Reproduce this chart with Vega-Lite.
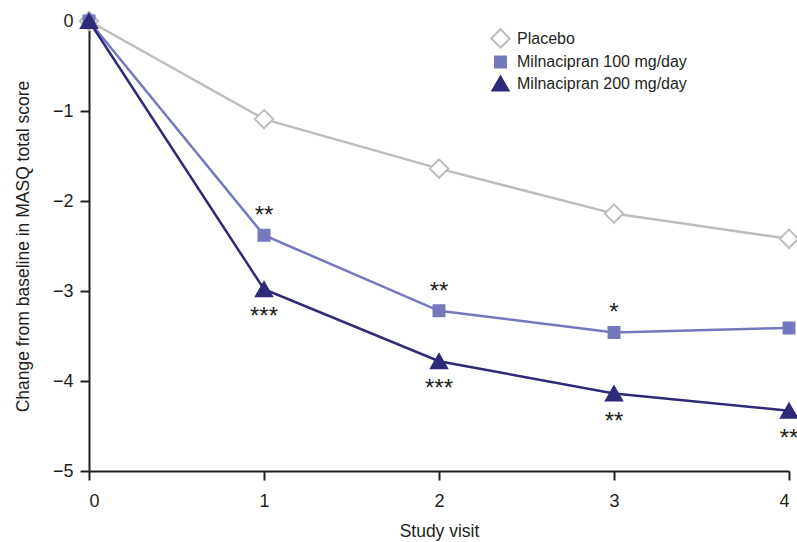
{
  "$schema": "https://vega.github.io/schema/vega-lite/v6.json",
  "width": 700,
  "height": 450,
  "autosize": {"type": "none"},
  "padding": {"left": 89, "top": 21, "right": 8, "bottom": 71},
  "background": "white",
  "config": {
    "view": {"stroke": null},
    "font": "Liberation Sans",
    "axis": {
      "domainColor": "#231f20",
      "domainWidth": 2,
      "tickColor": "#231f20",
      "tickWidth": 2,
      "tickSize": 9,
      "grid": false,
      "labelFontSize": 18,
      "labelColor": "#231f20",
      "titleFontSize": 17.5,
      "titleFontWeight": "normal",
      "titleColor": "#231f20",
      "labelFont": "Liberation Sans",
      "titleFont": "Liberation Sans"
    },
    "legend": {
      "labelFontSize": 16, "labelColor": "#231f20", "labelFont": "Liberation Sans", "labelLimit": 400,
      "symbolStrokeWidth": 2, "rowPadding": 0, "labelOffset": 6, "padding": 0
    }
  },
  "data": {
    "values": [
      {"group": "Placebo", "visit": 0, "value": 0, "sig": ""},
      {"group": "Placebo", "visit": 1, "value": -1.09, "sig": ""},
      {"group": "Placebo", "visit": 2, "value": -1.64, "sig": ""},
      {"group": "Placebo", "visit": 3, "value": -2.14, "sig": ""},
      {"group": "Placebo", "visit": 4, "value": -2.42, "sig": ""},
      {"group": "Milnacipran 100 mg/day", "visit": 0, "value": 0, "sig": ""},
      {"group": "Milnacipran 100 mg/day", "visit": 1, "value": -2.38, "sig": "**"},
      {"group": "Milnacipran 100 mg/day", "visit": 2, "value": -3.22, "sig": "**"},
      {"group": "Milnacipran 100 mg/day", "visit": 3, "value": -3.46, "sig": "*"},
      {"group": "Milnacipran 100 mg/day", "visit": 4, "value": -3.41, "sig": ""},
      {"group": "Milnacipran 200 mg/day", "visit": 0, "value": 0, "sig": ""},
      {"group": "Milnacipran 200 mg/day", "visit": 1, "value": -2.98, "sig": "***"},
      {"group": "Milnacipran 200 mg/day", "visit": 2, "value": -3.78, "sig": "***"},
      {"group": "Milnacipran 200 mg/day", "visit": 3, "value": -4.14, "sig": "**"},
      {"group": "Milnacipran 200 mg/day", "visit": 4, "value": -4.33, "sig": "**"}
    ]
  },
  "encoding": {
    "x": {
      "field": "visit", "type": "quantitative",
      "scale": {"domain": [0, 4], "nice": false, "zero": false},
      "axis": {"values": [0, 1, 2, 3, 4], "title": "Study visit", "labelPadding": 12, "titlePadding": 12}
    },
    "y": {
      "field": "value", "type": "quantitative",
      "scale": {"domain": [-5, 0], "nice": false},
      "axis": {"values": [-5, -4, -3, -2, -1, 0], "title": "Change from baseline in MASQ total score", "labelPadding": 7, "titlePadding": 20}
    }
  },
  "layer": [
    {
      "mark": {"type": "line", "strokeWidth": 2.5},
      "encoding": {
        "color": {
          "field": "group", "type": "nominal",
          "scale": {"range": ["#7479bd", "#2e2a78", "#bdbdbd"]},
          "legend": null
        }
      }
    },
    {
      "mark": {"type": "point", "filled": true, "strokeWidth": 2, "opacity": 1},
      "encoding": {
        "fill": {
          "field": "group", "type": "nominal",
          "scale": {"domain": ["Placebo", "Milnacipran 100 mg/day", "Milnacipran 200 mg/day"], "range": ["#ffffff", "#7479bd", "#2e2a78"]},
          "legend": {"title": null, "orient": "none", "legendX": 401, "legendY": 7}
        },
        "stroke": {
          "field": "group", "type": "nominal",
          "scale": {"domain": ["Placebo", "Milnacipran 100 mg/day", "Milnacipran 200 mg/day"], "range": ["#bdbdbd", "#7479bd", "#2e2a78"]},
          "legend": {"title": null, "orient": "none", "legendX": 401, "legendY": 7}
        },
        "shape": {
          "field": "group", "type": "nominal",
          "scale": {"domain": ["Placebo", "Milnacipran 100 mg/day", "Milnacipran 200 mg/day"], "range": ["diamond", "square", "triangle-up"]},
          "legend": {"title": null, "orient": "none", "legendX": 401, "legendY": 7}
        },
        "size": {
          "field": "group", "type": "nominal",
          "scale": {"type": "ordinal", "domain": ["Placebo", "Milnacipran 100 mg/day", "Milnacipran 200 mg/day"], "range": [340, 120, 260]},
          "legend": {"title": null, "orient": "none", "legendX": 401, "legendY": 7}
        }
      }
    },
    {
      "transform": [{"filter": "datum.group === 'Milnacipran 100 mg/day'"}],
      "mark": {"type": "text", "fontSize": 24, "dy": -19, "baseline": "middle", "align": "center", "color": "#231f20", "font": "Liberation Sans"},
      "encoding": {"text": {"field": "sig"}}
    },
    {
      "transform": [{"filter": "datum.group === 'Milnacipran 200 mg/day'"}],
      "mark": {"type": "text", "fontSize": 24, "dy": 28, "baseline": "middle", "align": "center", "color": "#231f20", "font": "Liberation Sans"},
      "encoding": {"text": {"field": "sig"}}
    }
  ]
}
